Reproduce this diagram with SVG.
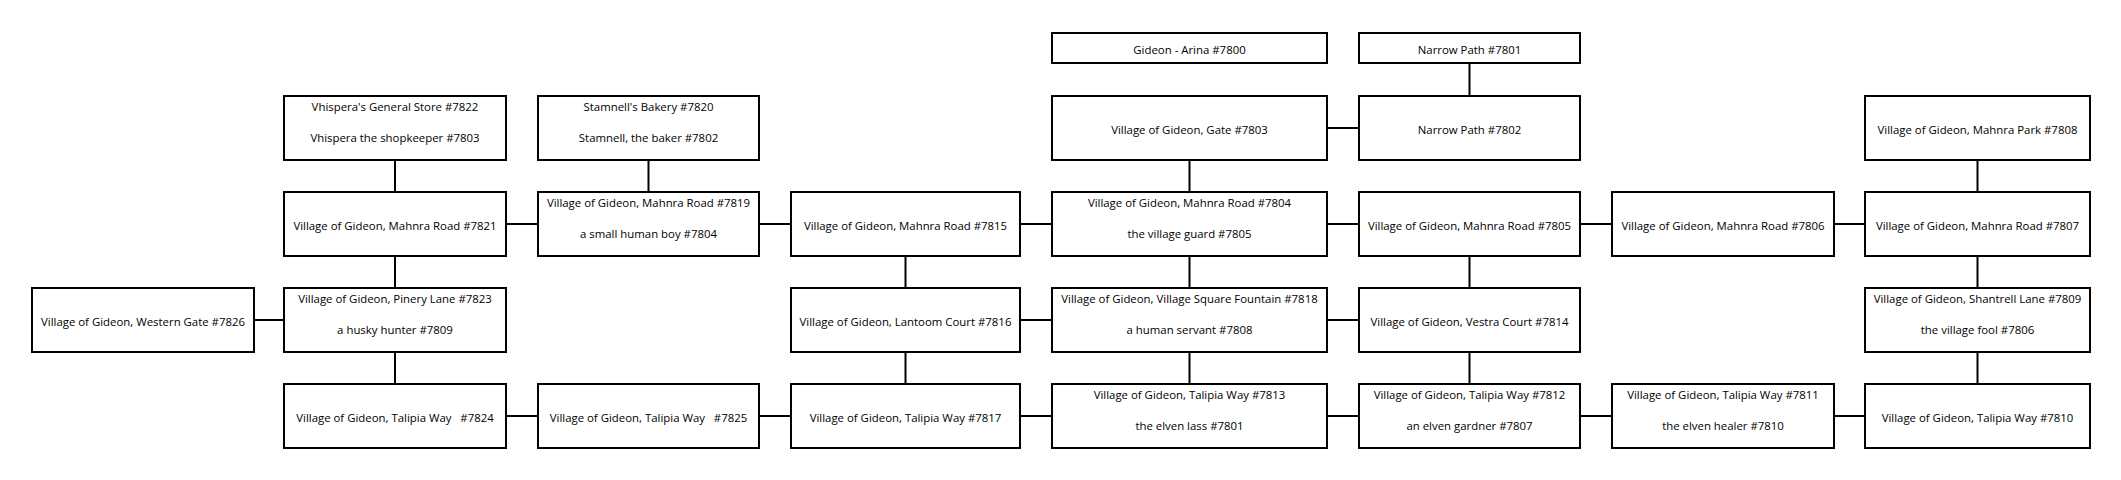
<svg xmlns="http://www.w3.org/2000/svg" width="2121" height="480" viewBox="0 0 2121 480">
<style>
rect{fill:#fff;stroke:#000;stroke-width:2}
text{font-family:"Open Sans","Liberation Sans",sans-serif;font-size:11.4px;fill:#000;text-anchor:middle;white-space:pre}
#connectors line{stroke:#000;stroke-width:2}
</style>
<rect x="0" y="0" width="2121" height="480" style="fill:#fff;stroke:none"/>
<g id="connectors">
<line x1="1469.5" y1="64" x2="1469.5" y2="96"/>
<line x1="395" y1="160" x2="395" y2="192"/>
<line x1="648.5" y1="160" x2="648.5" y2="192"/>
<line x1="1189.5" y1="160" x2="1189.5" y2="192"/>
<line x1="1977.5" y1="160" x2="1977.5" y2="192"/>
<line x1="395" y1="256" x2="395" y2="288"/>
<line x1="905.5" y1="256" x2="905.5" y2="288"/>
<line x1="1189.5" y1="256" x2="1189.5" y2="288"/>
<line x1="1469.5" y1="256" x2="1469.5" y2="288"/>
<line x1="1977.5" y1="256" x2="1977.5" y2="288"/>
<line x1="395" y1="352" x2="395" y2="384"/>
<line x1="905.5" y1="352" x2="905.5" y2="384"/>
<line x1="1189.5" y1="352" x2="1189.5" y2="384"/>
<line x1="1469.5" y1="352" x2="1469.5" y2="384"/>
<line x1="1977.5" y1="352" x2="1977.5" y2="384"/>
<line x1="1327" y1="128" x2="1359" y2="128"/>
<line x1="506" y1="224" x2="538" y2="224"/>
<line x1="759" y1="224" x2="791" y2="224"/>
<line x1="1020" y1="224" x2="1052" y2="224"/>
<line x1="1327" y1="224" x2="1359" y2="224"/>
<line x1="1580" y1="224" x2="1612" y2="224"/>
<line x1="1834" y1="224" x2="1865" y2="224"/>
<line x1="254" y1="320" x2="284" y2="320"/>
<line x1="1020" y1="320" x2="1052" y2="320"/>
<line x1="1327" y1="320" x2="1359" y2="320"/>
<line x1="506" y1="416" x2="538" y2="416"/>
<line x1="759" y1="416" x2="791" y2="416"/>
<line x1="1020" y1="416" x2="1052" y2="416"/>
<line x1="1327" y1="416" x2="1359" y2="416"/>
<line x1="1580" y1="416" x2="1612" y2="416"/>
<line x1="1834" y1="416" x2="1865" y2="416"/>
</g>
<g id="n7800"><rect x="1052" y="33" width="275" height="30"/><text x="1189.5" y="54">Gideon - Arina #7800</text></g>
<g id="n7801"><rect x="1359" y="33" width="221" height="30"/><text x="1469.5" y="54">Narrow Path #7801</text></g>
<g id="n7822"><rect x="284" y="96" width="222" height="64"/><text x="395" y="110.5">Vhispera's General Store #7822</text><text x="395" y="142">Vhispera the shopkeeper #7803</text></g>
<g id="n7820"><rect x="538" y="96" width="221" height="64"/><text x="648.5" y="110.5">Stamnell's Bakery #7820</text><text x="648.5" y="142">Stamnell, the baker #7802</text></g>
<g id="n7803"><rect x="1052" y="96" width="275" height="64"/><text x="1189.5" y="134">Village of Gideon, Gate #7803</text></g>
<g id="n7802"><rect x="1359" y="96" width="221" height="64"/><text x="1469.5" y="134">Narrow Path #7802</text></g>
<g id="n7808"><rect x="1865" y="96" width="225" height="64"/><text x="1977.5" y="134">Village of Gideon, Mahnra Park #7808</text></g>
<g id="n7821"><rect x="284" y="192" width="222" height="64"/><text x="395" y="230">Village of Gideon, Mahnra Road #7821</text></g>
<g id="n7819"><rect x="538" y="192" width="221" height="64"/><text x="648.5" y="206.5">Village of Gideon, Mahnra Road #7819</text><text x="648.5" y="238">a small human boy #7804</text></g>
<g id="n7815"><rect x="791" y="192" width="229" height="64"/><text x="905.5" y="230">Village of Gideon, Mahnra Road #7815</text></g>
<g id="n7804"><rect x="1052" y="192" width="275" height="64"/><text x="1189.5" y="206.5">Village of Gideon, Mahnra Road #7804</text><text x="1189.5" y="238">the village guard #7805</text></g>
<g id="n7805"><rect x="1359" y="192" width="221" height="64"/><text x="1469.5" y="230">Village of Gideon, Mahnra Road #7805</text></g>
<g id="n7806"><rect x="1612" y="192" width="222" height="64"/><text x="1723" y="230">Village of Gideon, Mahnra Road #7806</text></g>
<g id="n7807"><rect x="1865" y="192" width="225" height="64"/><text x="1977.5" y="230">Village of Gideon, Mahnra Road #7807</text></g>
<g id="n7826"><rect x="32" y="288" width="222" height="64"/><text x="143" y="326">Village of Gideon, Western Gate #7826</text></g>
<g id="n7823"><rect x="284" y="288" width="222" height="64"/><text x="395" y="302.5">Village of Gideon, Pinery Lane #7823</text><text x="395" y="334">a husky hunter #7809</text></g>
<g id="n7816"><rect x="791" y="288" width="229" height="64"/><text x="905.5" y="326">Village of Gideon, Lantoom Court #7816</text></g>
<g id="n7818"><rect x="1052" y="288" width="275" height="64"/><text x="1189.5" y="302.5">Village of Gideon, Village Square Fountain #7818</text><text x="1189.5" y="334">a human servant #7808</text></g>
<g id="n7814"><rect x="1359" y="288" width="221" height="64"/><text x="1469.5" y="326">Village of Gideon, Vestra Court #7814</text></g>
<g id="n7809"><rect x="1865" y="288" width="225" height="64"/><text x="1977.5" y="302.5">Village of Gideon, Shantrell Lane #7809</text><text x="1977.5" y="334">the village fool #7806</text></g>
<g id="n7824"><rect x="284" y="384" width="222" height="64"/><text x="395" y="422" xml:space="preserve">Village of Gideon, Talipia Way   #7824</text></g>
<g id="n7825"><rect x="538" y="384" width="221" height="64"/><text x="648.5" y="422" xml:space="preserve">Village of Gideon, Talipia Way   #7825</text></g>
<g id="n7817"><rect x="791" y="384" width="229" height="64"/><text x="905.5" y="422">Village of Gideon, Talipia Way #7817</text></g>
<g id="n7813"><rect x="1052" y="384" width="275" height="64"/><text x="1189.5" y="398.5">Village of Gideon, Talipia Way #7813</text><text x="1189.5" y="430">the elven lass #7801</text></g>
<g id="n7812"><rect x="1359" y="384" width="221" height="64"/><text x="1469.5" y="398.5">Village of Gideon, Talipia Way #7812</text><text x="1469.5" y="430">an elven gardner #7807</text></g>
<g id="n7811"><rect x="1612" y="384" width="222" height="64"/><text x="1723" y="398.5">Village of Gideon, Talipia Way #7811</text><text x="1723" y="430">the elven healer #7810</text></g>
<g id="n7810"><rect x="1865" y="384" width="225" height="64"/><text x="1977.5" y="422">Village of Gideon, Talipia Way #7810</text></g>
</svg>
